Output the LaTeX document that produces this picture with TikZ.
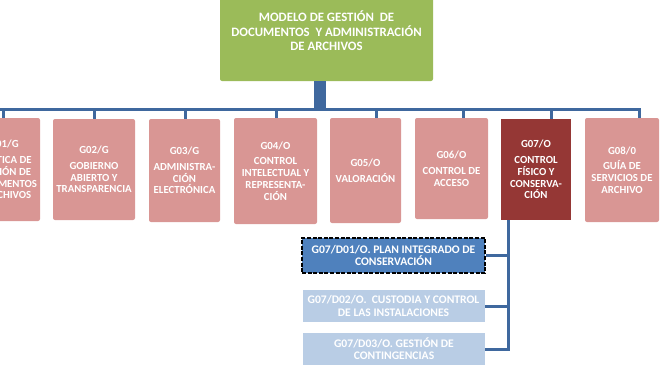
\documentclass[tikz,border=0pt]{standalone}
\usepackage{fontspec}
\setmainfont{Carlito}
\usetikzlibrary{positioning,calc}
\definecolor{modgreen}{HTML}{9BBB59}
\definecolor{procpink}{HTML}{D99694}
\definecolor{procred}{HTML}{953735}
\definecolor{docblue}{HTML}{4F81BD}
\definecolor{doclight}{HTML}{B9CDE5}
\definecolor{connblue}{HTML}{3F689E}
\tikzset{
  % cajas
  topbox/.style={fill=modgreen,rounded corners=2pt,inner sep=0pt,
                 minimum width=213pt,minimum height=83pt},
  toptext/.style={text=white,align=center,inner sep=0pt,
                  font=\fontsize{12.8}{14.5}\selectfont\bfseries},
  proc/.style={fill=procpink,rounded corners=2pt,inner sep=0pt,text=white,
               align=center,font=\fontsize{10.8}{11.8}\selectfont\bfseries},
  procsel/.style={proc,fill=procred,rounded corners=0pt},
  doc/.style={fill=doclight,inner sep=0pt,text=white,align=center,
              minimum width=182pt,minimum height=32pt,
              font=\fontsize{11.6}{12.3}\selectfont\bfseries},
  docsel/.style={doc,fill=docblue,minimum height=35pt,
                 preaction={draw=white,line width=2.6pt},
                 draw=black,line width=2.6pt,dash pattern=on 4pt off 1.6pt},
  % conectores
  conn/.style={draw=connblue,line width=3pt},
}
\begin{document}
\begin{tikzpicture}[x=1pt,y=-1pt]
  \useasboundingbox (0,0) rectangle (667,378);
  \node[topbox] (top) at (326.5,39.5) {};
  \node[toptext] (title) at (326.5,31) {MODELO DE GESTIÓN~ DE\\DOCUMENTOS~ Y ADMINISTRACIÓN\\DE ARCHIVOS};
  \node[proc,minimum width=72pt,minimum height=103pt] (g01) at (4,169.5)
    {G01/G\\[4pt]POLÍTICA DE\\GESTIÓN DE\\DOCUMENTOS\\Y ARCHIVOS};
  \node[proc,minimum width=82pt,minimum height=101pt] (g02) at (94,169.5)
    {G02/G\\[4pt]GOBIERNO\\ABIERTO Y\\TRANSPARENCIA};
  \node[proc,minimum width=71pt,minimum height=103pt] (g03) at (184.5,170.5)
    {G03/G\\[4pt]ADMINISTRA-\\CIÓN\\ELECTRÓNICA};
  \node[proc,minimum width=83pt,minimum height=106pt] (g04) at (275.5,171)
    {G04/O\\[4pt]CONTROL\\INTELECTUAL Y\\REPRESENTA-\\CIÓN};
  \node[proc,minimum width=71pt,minimum height=105pt] (g05) at (365.5,170.5)
    {G05/O\\[4pt]VALORACIÓN};
  \node[proc,minimum width=73pt,minimum height=101pt] (g06) at (451.5,168.5)
    {G06/O\\[4pt]CONTROL DE\\ACCESO};
  \node[procsel,minimum width=70pt,minimum height=101pt] (g07) at (536,169.5)
    {G07/O\\[4pt]CONTROL\\FÍSICO Y\\CONSERVA-\\CIÓN};
  \node[proc,minimum width=74pt,minimum height=104pt] (g08) at (622,170)
    {G08/0\\[4pt]GUÍA DE\\SERVICIOS DE\\ARCHIVO};
  \node[docsel,minimum width=183pt] (d01) at (393.5,255.5)
    {G07/D01/O. PLAN INTEGRADO DE\\CONSERVACIÓN};
  \node[doc] (d02) at (393.5,306) {G07/D02/O.~ CUSTODIA Y CONTROL\\DE LAS INSTALACIONES};
  \node[doc] (d03) at (394,349) {G07/D03/O. GESTIÓN DE\\CONTINGENCIAS};
  % organigrama
  \foreach \c/\dx/\sx in {g01/-1/-11,g02/0/-10,g03/0.5/-9,g04/0.5/-8,
                          g05/10.5/-5,g06/11.5/-4,g07/15/-3,g08/17/-2}
    \draw[conn] ([xshift=\sx pt]top.south) |- (0,109) -| ([xshift=\dx pt]\c.north);
  \foreach \d in {d01,d02,d03}
    \draw[conn] ([xshift=-28pt]g07.south) |- (\d.east);
\end{tikzpicture}
\end{document}
